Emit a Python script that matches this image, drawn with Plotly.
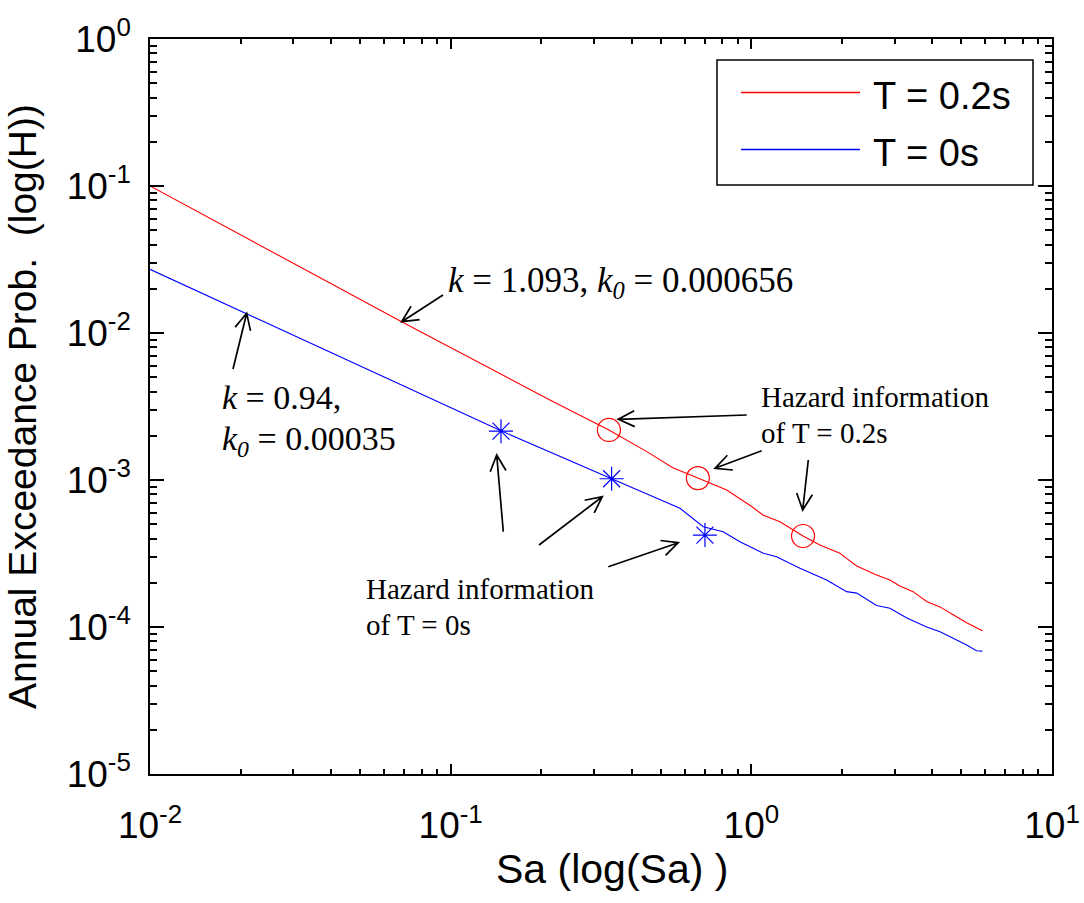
import math
import plotly.graph_objects as go

# ---------------- data ----------------
sa_t02 = [0.01, 0.0687, 0.2138, 0.336, 0.449, 0.548, 0.664, 0.828, 0.997, 1.093,
          1.245, 1.486, 1.69, 1.971, 2.075, 2.24, 2.61, 2.89, 3.12, 3.45, 3.83,
          4.24, 4.69, 5.2, 5.87]
h_t02 = [0.1, 0.01194, 0.0035, 0.00219, 0.00156, 0.00121, 0.00103, 0.000855,
         0.000665, 0.000578, 0.00052, 0.000416, 0.000361, 0.000317, 0.000293,
         0.00026, 0.000226, 0.000209, 0.00019, 0.000174, 0.000149, 0.000137,
         0.000121, 0.000107, 9.44e-5]

sa_t0 = [0.01, 0.0995, 0.147, 0.343, 0.579, 0.692, 0.806, 0.916, 1.096, 1.213,
         1.451, 1.78, 2.075, 2.24, 2.61, 2.89, 3.29, 3.83, 4.24, 4.69, 5.2,
         5.61, 5.87]
h_t0 = [0.0271, 0.00315, 0.00216, 0.00102, 0.000642, 0.000481, 0.000445,
        0.00038, 0.000317, 0.000301, 0.000251, 0.000209, 0.000174, 0.00017,
        0.00014, 0.000134, 0.000115, 0.0001, 9.29e-5, 8.38e-5, 7.55e-5,
        6.9e-5, 6.85e-5]

hazard_sa_t02 = [0.336, 0.664, 1.486]
hazard_h_t02 = [0.00219, 0.00103, 0.000416]
hazard_sa_t0 = [0.147, 0.343, 0.701]
hazard_h_t0 = [0.00215, 0.00102, 0.000422]

x_tick_vals = [0.01, 0.1, 1, 10]
x_tick_text = ["10<sup>-2</sup>", "10<sup>-1</sup>", "10<sup>0</sup>", "10<sup>1</sup>"]
y_tick_vals = [1e-5, 1e-4, 1e-3, 1e-2, 1e-1, 1]
y_tick_text = ["10<sup>-5</sup>", "10<sup>-4</sup>", "10<sup>-3</sup>",
               "10<sup>-2</sup>", "10<sup>-1</sup>", "10<sup>0</sup>"]

legend_names = ["T = 0.2s", "T = 0s"]

# ---------------- layout constants ----------------
W, H = 1084, 903
L, R, T, B = 150, 1052, 39, 774  # plot area in pixels

def px2paper(px, py):
    return (px - L) / (R - L), (B - py) / (B - T)

x_minor = [m * 10 ** e for e in range(-2, 1) for m in range(2, 10)]
y_minor = [m * 10 ** e for e in range(-5, 0) for m in range(2, 10)]

SANS = "Liberation Sans, Arial, sans-serif"
SERIF = "Liberation Serif, Times New Roman, serif"

fig = go.Figure()
fig.add_trace(go.Scatter(x=sa_t02, y=h_t02, mode="lines", name=legend_names[0],
                         line=dict(color="#ff0000", width=1.1), showlegend=False))
fig.add_trace(go.Scatter(x=sa_t0, y=h_t0, mode="lines", name=legend_names[1],
                         line=dict(color="#0000ff", width=1.1), showlegend=False))
fig.add_trace(go.Scatter(x=hazard_sa_t02, y=hazard_h_t02, mode="markers",
                         marker=dict(symbol="circle-open", size=23,
                                     color="#ff0000", line=dict(width=1.2, color="#ff0000")),
                         showlegend=False))
fig.add_trace(go.Scatter(x=hazard_sa_t0, y=hazard_h_t0, mode="markers",
                         marker=dict(symbol="asterisk-open", size=20,
                                     color="#0000ff", line=dict(width=1.2, color="#0000ff")),
                         showlegend=False))

axis_common = dict(
    type="log", showgrid=False, zeroline=False,
    showline=True, linecolor="black", linewidth=1.5, mirror="ticks",
    ticks="inside", tickcolor="black", tickwidth=2,
    tickmode="array", tickfont=dict(family=SANS, size=37, color="black"),
)

fig.update_xaxes(**axis_common, range=[-2, 1], tickvals=x_tick_vals,
                 ticktext=x_tick_text, ticklen=10, ticklabelstandoff=18,
                 minor=dict(tickmode="array", tickvals=x_minor, ticks="inside",
                            ticklen=5, tickwidth=2, tickcolor="black"))
fig.update_yaxes(**axis_common, range=[-5, 0], tickvals=y_tick_vals,
                 ticktext=y_tick_text, ticklen=14, ticklabelstandoff=10,
                 minor=dict(tickmode="array", tickvals=y_minor, ticks="inside",
                            ticklen=7, tickwidth=2, tickcolor="black"),
                 title=dict(text="Annual Exceedance Prob.  (log(H))",
                            font=dict(family=SANS, size=39, color="black"),
                            standoff=18))

shapes = []
annotations = []

# x-axis title (placed as in the reference)
xt, yt = px2paper(612, 869)
annotations.append(dict(text="Sa (log(Sa) )", x=xt, y=yt, xref="paper", yref="paper",
                        xanchor="center", yanchor="middle", showarrow=False,
                        font=dict(family=SANS, size=41, color="black")))

# ---------- arrows with open V heads (tail -> tip, pixels) ----------
arrows = [
    ((443, 295), (401.7, 321.7)),
    ((233, 369), (246.7, 313.3)),
    ((746.7, 415), (618.3, 419.3)),
    ((761.7, 450.7), (715, 468.3)),
    ((808.3, 460), (802.7, 510)),
    ((503.3, 531.7), (496.7, 455)),
    ((539, 545), (602.3, 496.7)),
    ((608.3, 566.7), (678.3, 542.7)),
]
arm, half = 18, math.radians(26)
for (tx, ty), (hx, hy) in arrows:
    ang = math.atan2(ty - hy, tx - hx)
    a1 = (hx + arm * math.cos(ang + half), hy + arm * math.sin(ang + half))
    a2 = (hx + arm * math.cos(ang - half), hy + arm * math.sin(ang - half))
    pts = [px2paper(*p) for p in [(tx, ty), (hx, hy), a1, a2]]
    path = (f"M {pts[0][0]},{pts[0][1]} L {pts[1][0]},{pts[1][1]} "
            f"M {pts[2][0]},{pts[2][1]} L {pts[1][0]},{pts[1][1]} L {pts[3][0]},{pts[3][1]}")
    shapes.append(dict(type="path", xref="paper", yref="paper", path=path,
                       line=dict(color="black", width=1.7)))

# ---------- text annotations (left x, center y in pixels) ----------
texts = [
    ("<i>k</i> = 1.093, <i>k<sub>0</sub></i> = 0.000656", 446, 282, 35),
    ("<i>k</i> = 0.94,", 220, 397, 34),
    ("<i>k<sub>0</sub></i> = 0.00035", 220, 441, 34),
    ("Hazard information", 759, 397, 29),
    ("of T = 0.2s", 759, 433, 29),
    ("Hazard information", 364, 589, 29),
    ("of T = 0s", 364, 625, 29),
]
for txt, lx, cy, fs in texts:
    xp, yp = px2paper(lx, cy)
    annotations.append(dict(text=txt, x=xp, y=yp, xref="paper", yref="paper",
                            xanchor="left", yanchor="middle", showarrow=False,
                            font=dict(family=SERIF, size=fs, color="black")))

# ---------- legend box (drawn by hand to match the MATLAB style) ----------
x0, y0 = px2paper(717, 185)
x1, y1 = px2paper(1033, 60)
shapes.append(dict(type="rect", xref="paper", yref="paper", x0=x0, y0=y0, x1=x1, y1=y1,
                   line=dict(color="black", width=1.5), fillcolor="white", layer="above"))
for name, color, ly, ty in [(legend_names[0], "#ff0000", 92.5, 96),
                            (legend_names[1], "#0000ff", 149.5, 153)]:
    lx0, lyp = px2paper(741, ly)
    lx1, _ = px2paper(860, ly)
    shapes.append(dict(type="line", xref="paper", yref="paper", x0=lx0, x1=lx1,
                       y0=lyp, y1=lyp, line=dict(color=color, width=1.3), layer="above"))
    tx, typ = px2paper(871, ty)
    annotations.append(dict(text=name, x=tx, y=typ, xref="paper", yref="paper",
                            xanchor="left", yanchor="middle", showarrow=False,
                            font=dict(family=SANS, size=38, color="black")))

fig.update_layout(
    width=W, height=H,
    margin=dict(l=L, r=W - R, t=T, b=H - B, autoexpand=False),
    paper_bgcolor="white", plot_bgcolor="white",
    shapes=shapes, annotations=annotations, showlegend=False,
)

fig.write_html("out.html")
